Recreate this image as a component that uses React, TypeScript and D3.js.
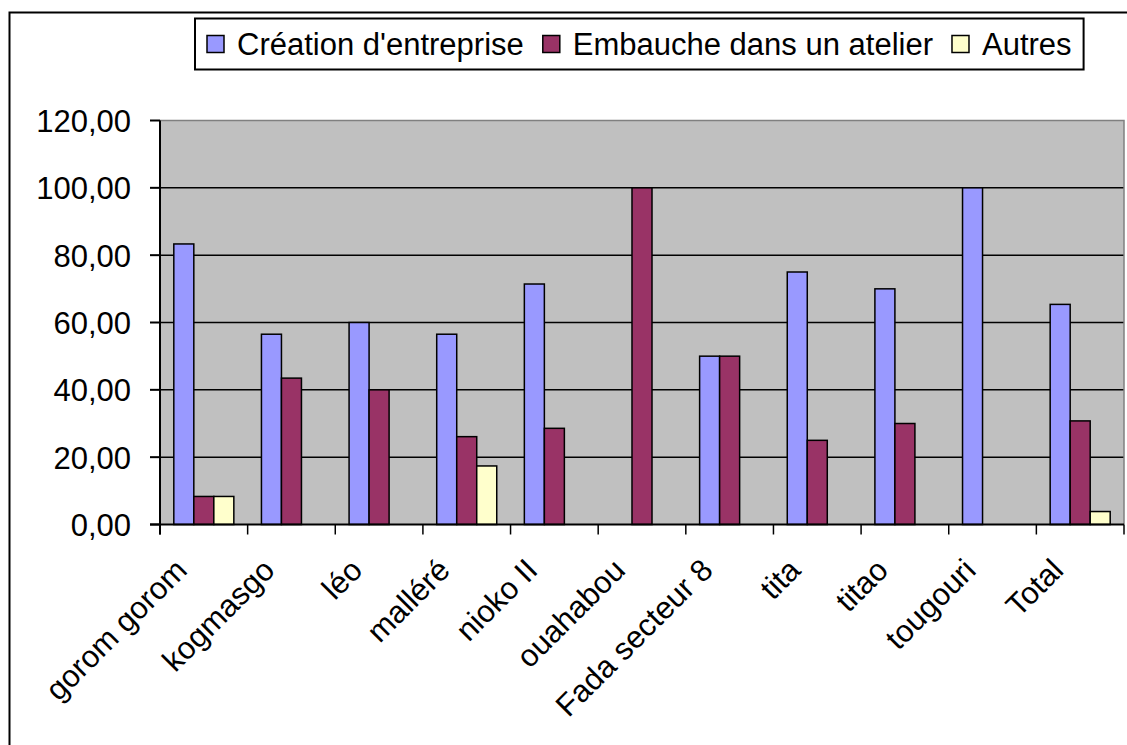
import { useEffect, useRef } from 'react';
import * as d3 from 'd3';

const categories = ['gorom gorom', 'kogmasgo', 'léo', 'malléré', 'nioko II', 'ouahabou', 'Fada secteur 8', 'tita', 'titao', 'tougouri', 'Total'];
const creation = [83.33, 56.52, 60.0, 56.52, 71.43, 0, 50.0, 75.0, 70.0, 100.0, 65.38];
const embauche = [8.33, 43.48, 40.0, 26.09, 28.57, 100.0, 50.0, 25.0, 30.0, 0, 30.77];
const autres = [8.33, 0, 0, 17.39, 0, 0, 0, 0, 0, 0, 3.85];
const seriesNames = ["Création d'entreprise", 'Embauche dans un atelier', 'Autres'];
const seriesColors = ['#9999FF', '#993366', '#FFFFCC'];
const yTicks = [0, 20, 40, 60, 80, 100, 120];

const FONT = '"Liberation Sans", Arial, sans-serif';

export default function App() {
  const svgRef = useRef<SVGSVGElement>(null);

  useEffect(() => {
    if (!svgRef.current) return;
    const W = 1127, H = 745;
    const P = { l: 160, r: 1124, t: 120.5, b: 524.5 };
    const svg = d3.select(svgRef.current);
    svg.selectAll('*').remove();
    svg.attr('width', W).attr('height', H);

    const values = [creation, embauche, autres];

    // outer frame (runs off the right / bottom edge)
    svg.append('rect').attr('x', 0).attr('y', 0).attr('width', W).attr('height', H).attr('fill', '#fff');
    svg.append('rect')
      .attr('x', 9.5).attr('y', 12.5).attr('width', 1300).attr('height', 900)
      .attr('fill', '#fff').attr('stroke', '#000').attr('stroke-width', 2);

    const x0 = d3.scaleBand().domain(categories).range([P.l, P.r]);
    const x1 = d3.scaleBand().domain(seriesNames).range([0, x0.bandwidth()]).paddingOuter(0.69);
    const y = d3.scaleLinear().domain([0, 120]).range([P.b, P.t]);

    // plot area
    svg.append('rect')
      .attr('x', P.l).attr('y', P.t).attr('width', P.r - P.l).attr('height', P.b - P.t)
      .attr('fill', '#C0C0C0');

    yTicks.filter(t => t > 0 && t < 120).forEach(t => {
      svg.append('line')
        .attr('x1', P.l).attr('x2', P.r).attr('y1', y(t)).attr('y2', y(t))
        .attr('stroke', '#000').attr('stroke-width', 1.5);
    });

    svg.append('path')
      .attr('d', `M${P.l},${P.t}H${P.r}V${P.b}`)
      .attr('fill', 'none').attr('stroke', '#808080').attr('stroke-width', 1.5);

    // bars
    values.forEach((vals, si) => {
      svg.append('g').selectAll('rect')
        .data(categories.map((c, i) => ({ c, v: vals[i] })).filter(d => d.v > 0))
        .enter().append('rect')
        .attr('x', d => (x0(d.c) ?? 0) + (x1(seriesNames[si]) ?? 0))
        .attr('y', d => y(d.v))
        .attr('width', x1.bandwidth())
        .attr('height', d => y(0) - y(d.v))
        .attr('fill', seriesColors[si])
        .attr('stroke', '#000').attr('stroke-width', 1.5);
    });

    // axes
    svg.append('line')
      .attr('x1', P.l).attr('x2', P.l).attr('y1', P.t).attr('y2', P.b + 10)
      .attr('stroke', '#000').attr('stroke-width', 2);
    svg.append('line')
      .attr('x1', P.l - 10).attr('x2', P.r).attr('y1', P.b).attr('y2', P.b)
      .attr('stroke', '#000').attr('stroke-width', 2);

    const fmt = (v: number) => d3.format('.2f')(v).replace('.', ',');
    yTicks.forEach(t => {
      svg.append('line')
        .attr('x1', P.l - 10).attr('x2', P.l).attr('y1', y(t)).attr('y2', y(t))
        .attr('stroke', '#000').attr('stroke-width', 2);
      svg.append('text')
        .attr('x', 131).attr('y', y(t) + 11.5)
        .attr('text-anchor', 'end').attr('font-family', FONT).attr('font-size', 31)
        .attr('fill', '#000').text(fmt(t));
    });

    categories.forEach((c, i) => {
      const bx = (x0(c) ?? 0);
      svg.append('line')
        .attr('x1', bx).attr('x2', bx).attr('y1', P.b).attr('y2', P.b + 10)
        .attr('stroke', '#000').attr('stroke-width', 1.5);
      if (i === categories.length - 1) {
        svg.append('line')
          .attr('x1', P.r).attr('x2', P.r).attr('y1', P.b).attr('y2', P.b + 10)
          .attr('stroke', '#000').attr('stroke-width', 1.5);
      }
      const cx = bx + x0.bandwidth() / 2 - 15;
      const cy = 572;
      svg.append('text')
        .attr('x', cx).attr('y', cy)
        .attr('transform', `rotate(-45,${cx},${cy})`)
        .attr('text-anchor', 'end').attr('font-family', FONT).attr('font-size', 31)
        .attr('fill', '#000').text(c);
    });

    // legend
    const lg = svg.append('g');
    const box = lg.append('rect');
    let lx = 207;
    const startX = lx;
    seriesNames.forEach((name, si) => {
      lg.append('rect')
        .attr('x', lx).attr('y', 35.5).attr('width', 17).attr('height', 17)
        .attr('fill', seriesColors[si]).attr('stroke', '#000').attr('stroke-width', 1.5);
      const t = lg.append('text')
        .attr('x', lx + 30).attr('y', 55)
        .attr('font-family', FONT).attr('font-size', 31).attr('fill', '#000')
        .text(name);
      const w = (t.node() as SVGTextElement).getComputedTextLength();
      lx = lx + 30 + w + (si < seriesNames.length - 1 ? 19 : 0);
    });
    box.attr('x', startX - 12).attr('y', 18.5).attr('width', lx - startX + 24).attr('height', 51)
      .attr('fill', '#fff').attr('stroke', '#000').attr('stroke-width', 2);
  }, []);

  return <svg ref={svgRef} style={{ position: 'absolute', left: 0, top: 0, display: 'block' }} />;
}
